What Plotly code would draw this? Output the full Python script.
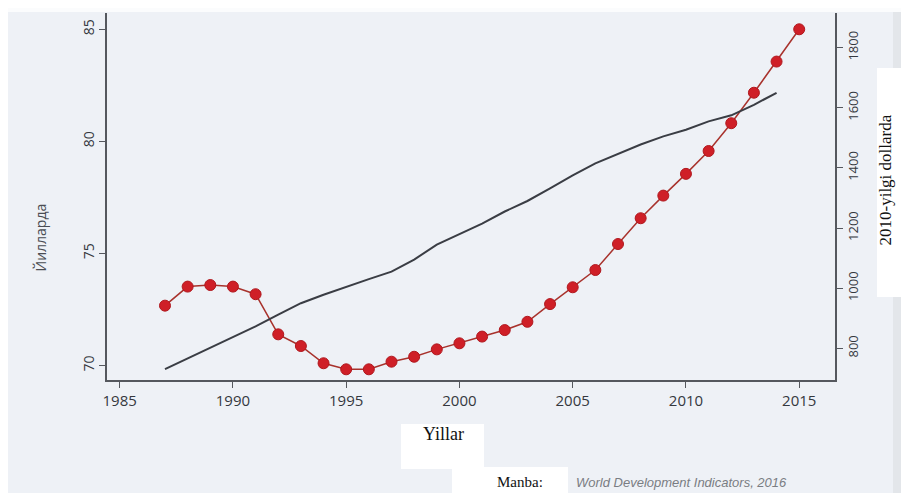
import plotly.graph_objects as go

years_red = list(range(1987, 2016))
red_values = [72.67, 73.52, 73.59, 73.52, 73.18, 71.39, 70.87, 70.10, 69.83, 69.83,
              70.17, 70.39, 70.72, 70.99, 71.29, 71.58, 71.95, 72.74, 73.49, 74.26,
              75.42, 76.57, 77.58, 78.55, 79.57, 80.81, 82.17, 83.56, 85.00]

years_black = list(range(1987, 2015))
black_values = [731, 767, 802, 838, 873, 912, 950, 978, 1005, 1030,
                1055, 1095, 1145, 1180, 1215, 1255, 1290, 1332, 1375, 1415,
                1447, 1478, 1505, 1527, 1555, 1575, 1610, 1650]

x_ticks = [1985, 1990, 1995, 2000, 2005, 2010, 2015]
left_ticks = [70, 75, 80, 85]
right_ticks = [800, 1000, 1200, 1400, 1600, 1800]

OFF = 8  # page body margin
W, H = 909 - OFF, 493 - OFF
L, R, T, B = 107 - OFF, 835 - OFF, 13 - OFF, 380 - OFF


def px(x):
    # page pixel x -> paper fraction
    return (x - OFF - L) / (R - L)


def py(y):
    # page pixel y -> paper fraction
    return (B - (y - OFF)) / (B - T)


fig = go.Figure()
fig.add_trace(go.Scatter(x=years_black, y=black_values, yaxis="y2", mode="lines",
                         line=dict(color="#3a3d44", width=2), showlegend=False))
fig.add_trace(go.Scatter(x=years_red, y=red_values, mode="lines+markers",
                         line=dict(color="#a8322c", width=1.5),
                         marker=dict(size=11, color="#cf1f27", line=dict(color="#b0181e", width=1)),
                         showlegend=False))

tick_col = "#35383e"

fig.update_layout(
    width=W, height=H,
    margin=dict(l=L, r=W - R, t=T, b=H - B),
    paper_bgcolor="#eef1f6",
    plot_bgcolor="#eef1f6",
    xaxis=dict(range=[1984.44, 2016.58], tickvals=x_ticks, ticks="outside", ticklen=6,
               tickcolor="#55585e", showline=True, linecolor="#55585e", linewidth=1.5,
               showgrid=False, zeroline=False,
               tickfont=dict(family="Open Sans", size=15, color=tick_col)),
    yaxis=dict(range=[69.353, 85.727], tickvals=left_ticks, ticks="outside", ticklen=6,
               tickcolor="#55585e", showline=True, linecolor="#55585e", linewidth=1.5,
               showgrid=False, zeroline=False, tickangle=-90,
               tickfont=dict(family="Open Sans", size=14, color=tick_col)),
    yaxis2=dict(range=[694.5, 1915.4], tickvals=right_ticks, overlaying="y", side="right",
                ticks="outside", ticklen=6, tickcolor="#55585e", showline=True,
                linecolor="#55585e", linewidth=1.5, showgrid=False, zeroline=False,
                tickangle=-90, tickfont=dict(family="Open Sans", size=13, color=tick_col)),
)

shapes = []
# white scan border at the top
shapes.append(dict(type="rect", xref="paper", yref="paper", x0=px(0), x1=px(909), y0=py(12), y1=py(0),
                   fillcolor="#fbfcfd", line=dict(width=0), layer="below"))
# darker scan edge at the right
shapes.append(dict(type="rect", xref="paper", yref="paper", x0=px(893), x1=px(909), y0=py(493), y1=py(12),
                   fillcolor="#e3e6ea", line=dict(width=0), layer="below"))
# white label boxes
for (x0, y0, x1, y1) in [(877, 68, 909, 297), (401, 424, 484, 469), (452, 467, 568, 493)]:
    shapes.append(dict(type="rect", xref="paper", yref="paper", x0=px(x0), x1=px(x1),
                       y0=py(y1), y1=py(y0), fillcolor="white", line=dict(width=0), layer="above"))
fig.update_layout(shapes=shapes)

ann = []
ann.append(dict(text="Йилларда", x=px(28), y=py(238), xref="paper", yref="paper", showarrow=False,
                textangle=-90, font=dict(family="Open Sans", size=14, color="#4a4d53")))
ann.append(dict(text="2010-yilgi dollarda", x=px(897), y=py(180), xref="paper", yref="paper",
                showarrow=False, textangle=-90,
                font=dict(family="Liberation Serif", size=17, color="#111111")))
ann.append(dict(text="Yillar", x=px(443), y=py(446), xref="paper", yref="paper", showarrow=False,
                font=dict(family="Liberation Serif", size=18, color="#111111")))
ann.append(dict(text="Manba:", x=px(520), y=py(492), xref="paper", yref="paper", showarrow=False,
                yanchor="bottom", font=dict(family="Liberation Serif", size=15, color="#111111")))
ann.append(dict(text="<i>World Development Indicators, 2016</i>", x=px(574), y=py(492),
                xref="paper", yref="paper", showarrow=False, xanchor="left", yanchor="bottom",
                font=dict(family="Liberation Sans", size=13, color="#7a7d83")))
fig.update_layout(annotations=ann)

fig.write_html("out.html")
